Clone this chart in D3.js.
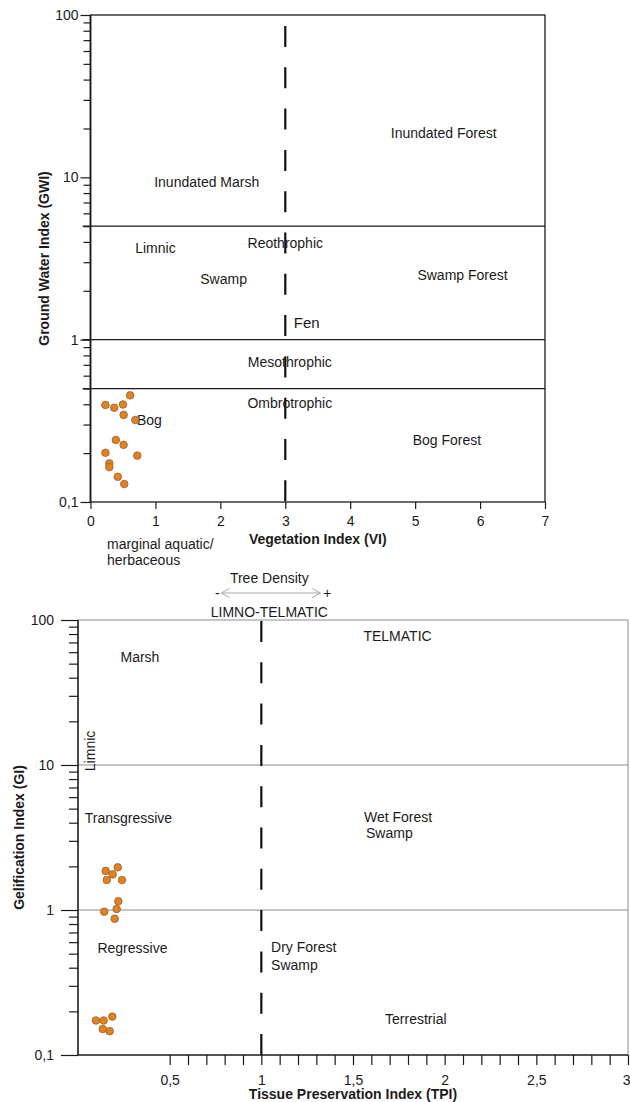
<!DOCTYPE html>
<html>
<head>
<meta charset="utf-8">
<script src="https://cdn.jsdelivr.net/npm/d3@7"></script>
<style>
  body { margin: 0; background: #fff; }
  svg { display: block; font-family: "Liberation Sans", Arial, Helvetica, sans-serif; }
</style>
</head>
<body>
<svg id="chart" width="630" height="1102"></svg>
<script>
// ---- Upper diagram: Vegetation Index (VI) vs Ground Water Index (GWI) ----
const viValues  = [0.61, 0.23, 0.365, 0.50, 0.51, 0.69, 0.39, 0.51, 0.23, 0.72, 0.29, 0.29, 0.42, 0.52];
const gwiValues = [0.454, 0.396, 0.381, 0.399, 0.344, 0.320, 0.241, 0.225, 0.201, 0.193, 0.173, 0.164, 0.143, 0.129];
const viTicks = [0, 1, 2, 3, 4, 5, 6, 7];
const gwiMajorTicks = [0.1, 1, 10, 100];
const gwiBoundaries = [0.5, 1, 5];
const viBoundary = 3;
const topFields = [
  { text: "Inundated Forest", x: 5.44, y: 17.5, anchor: "middle" },
  { text: "Inundated Marsh",  x: 1.79, y: 8.7,  anchor: "middle" },
  { text: "Reothrophic",      x: 3.0,  y: 3.67, anchor: "middle" },
  { text: "Limnic",           x: 1.0,  y: 3.42, anchor: "middle" },
  { text: "Swamp",            x: 2.05, y: 2.2,  anchor: "middle" },
  { text: "Swamp Forest",     x: 5.73, y: 2.33, anchor: "middle" },
  { text: "Mesothrophic",     x: 3.07, y: 0.68, anchor: "middle" },
  { text: "Ombrotrophic",     x: 3.07, y: 0.379, anchor: "middle" },
  { text: "Bog",              x: 0.716, y: 0.298, anchor: "start" },
  { text: "Bog Forest",       x: 5.49, y: 0.224, anchor: "middle" }
];
const fenLabel = { text: "Fen", x: 3.13, y: 1.18 };

// ---- Lower diagram: Tissue Preservation Index (TPI) vs Gelification Index (GI) ----
const tpiValues = [0.151, 0.189, 0.217, 0.157, 0.240, 0.220, 0.143, 0.211, 0.200, 0.098, 0.140, 0.187, 0.135, 0.173];
const giValues  = [1.86, 1.76, 1.97, 1.61, 1.61, 1.15, 0.973, 1.016, 0.871, 0.173, 0.173, 0.184, 0.151, 0.146];
const tpiMajorTicks = [0.5, 1, 1.5, 2, 2.5, 3];
const tpiMinorTicks = [0.6, 0.7, 0.8, 0.9, 1.1, 1.2, 1.3, 1.4, 1.6, 1.7, 1.8, 1.9,
                       2.1, 2.2, 2.3, 2.4, 2.6, 2.7, 2.8, 2.9];
const giMajorTicks = [0.1, 1, 10, 100];
const giBoundaries = [1, 10];
const tpiBoundary = 1;
const bottomFields = [
  { text: "Marsh",         x: 0.338, y: 51.3, anchor: "middle" },
  { text: "TELMATIC",      x: 1.743, y: 71.7, anchor: "middle" },
  { text: "Transgressive", x: 0.275, y: 3.98, anchor: "middle" },
  { text: "Wet Forest",    x: 1.56,  y: 4.05, anchor: "start" },
  { text: "Swamp",         x: 1.571, y: 3.14, anchor: "start" },
  { text: "Regressive",    x: 0.297, y: 0.505, anchor: "middle" },
  { text: "Dry Forest",    x: 1.053, y: 0.513, anchor: "start" },
  { text: "Swamp",         x: 1.053, y: 0.386, anchor: "start" },
  { text: "Terrestrial",   x: 1.675, y: 0.164, anchor: "start" }
];
const limnicLabel = { text: "Limnic", x: 0.068, y: 12.5 };

// ---- helpers ----
const svg = d3.select("#chart");
const fmt = v => String(v).replace(".", ",");
const INK = "#1b1b1b";
function logMinor(decades) {
  const out = [];
  decades.forEach(d => { for (let k = 2; k <= 9; k++) out.push(+(d * k).toPrecision(3)); });
  return out;
}
function styleAxis(g) {
  g.select(".domain").remove();
  g.selectAll("line").attr("stroke", INK).attr("stroke-width", 1.2);
  g.selectAll("text").attr("font-size", 14).attr("fill", INK)
    .attr("font-family", '"Liberation Sans", Arial, sans-serif');
}
function drawPoints(g, xs, ys, xScale, yScale) {
  g.selectAll("circle.pt").data(xs.map((x, i) => [x, ys[i]])).join("circle")
    .attr("class", "pt")
    .attr("cx", d => xScale(d[0])).attr("cy", d => yScale(d[1]))
    .attr("r", 3.8)
    .attr("fill", "#ec7f14").attr("stroke", "#7d6650").attr("stroke-width", 0.8);
}

// =================== Upper diagram ===================
const xTop = d3.scaleLinear().domain([0, 7]).range([90.5, 545]);
const yTop = d3.scaleLog().domain([0.1, 100]).range([502, 15]);
const gTop = svg.append("g");

// frame
gTop.append("rect")
  .attr("x", xTop(0)).attr("y", yTop(100))
  .attr("width", xTop(7) - xTop(0)).attr("height", yTop(0.1) - yTop(100))
  .attr("fill", "none").attr("stroke", INK).attr("stroke-width", 1.3);
gTop.append("line")
  .attr("x1", xTop(0)).attr("x2", xTop(0)).attr("y1", yTop(100)).attr("y2", yTop(0.1))
  .attr("stroke", INK).attr("stroke-width", 1.7);

// GWI field boundaries
gTop.selectAll("line.bnd").data(gwiBoundaries).join("line")
  .attr("class", "bnd")
  .attr("x1", xTop(0) - 8).attr("x2", xTop(7))
  .attr("y1", d => yTop(d)).attr("y2", d => yTop(d))
  .attr("stroke", INK).attr("stroke-width", 1.3);

// VI boundary (dashed)
gTop.append("line")
  .attr("x1", xTop(viBoundary)).attr("x2", xTop(viBoundary))
  .attr("y1", yTop(100) + 11).attr("y2", yTop(0.1))
  .attr("stroke", "#111").attr("stroke-width", 2.2)
  .attr("stroke-dasharray", "21 20.3");

// axes
gTop.append("g").attr("transform", `translate(${xTop(0)},0)`)
  .call(d3.axisLeft(yTop).tickValues(logMinor([0.1, 1, 10])).tickSize(7).tickFormat(""))
  .call(styleAxis);
gTop.append("g").attr("transform", `translate(${xTop(0)},0)`)
  .call(d3.axisLeft(yTop).tickValues(gwiMajorTicks).tickSize(10).tickPadding(2).tickFormat(fmt))
  .call(styleAxis);
gTop.append("g").attr("transform", `translate(0,${yTop(0.1)})`)
  .call(d3.axisBottom(xTop).tickValues(viTicks).tickSize(7).tickPadding(7).tickFormat(fmt))
  .call(styleAxis);

// axis titles
gTop.append("text")
  .attr("transform", `translate(49,${(yTop(100) + yTop(0.1)) / 2}) rotate(-90)`)
  .attr("text-anchor", "middle").attr("font-size", 14).attr("font-weight", "bold").attr("fill", INK)
  .text("Ground Water Index (GWI)");
gTop.append("text")
  .attr("x", (xTop(0) + xTop(7)) / 2).attr("y", 544)
  .attr("text-anchor", "middle").attr("font-size", 14).attr("font-weight", "bold").attr("fill", INK)
  .text("Vegetation Index (VI)");
gTop.append("text")
  .attr("x", 107).attr("y", 549).attr("font-size", 14).attr("fill", INK)
  .text("marginal aquatic/");
gTop.append("text")
  .attr("x", 107).attr("y", 565).attr("font-size", 14).attr("fill", INK)
  .text("herbaceous");

// field names
gTop.selectAll("text.field").data(topFields).join("text")
  .attr("class", "field")
  .attr("x", d => xTop(d.x)).attr("y", d => yTop(d.y))
  .attr("text-anchor", d => d.anchor)
  .attr("font-size", 14).attr("fill", INK)
  .text(d => d.text);
gTop.append("text")
  .attr("x", xTop(fenLabel.x)).attr("y", yTop(fenLabel.y))
  .attr("font-size", 15).attr("fill", INK)
  .attr("font-family", '"Liberation Sans Narrow", "Liberation Sans", Arial, sans-serif')
  .text(fenLabel.text);

drawPoints(gTop, viValues, gwiValues, xTop, yTop);

// =================== Lower diagram ===================
const xBot = d3.scaleLinear().domain([0, 3]).range([78, 628]);
const yBot = d3.scaleLog().domain([0.1, 100]).range([1055, 620]);
const gBot = svg.append("g");

// light frame (top and right) and GI boundaries
gBot.append("line")
  .attr("x1", xBot(0)).attr("x2", xBot(3)).attr("y1", yBot(100)).attr("y2", yBot(100))
  .attr("stroke", "#8c8c8c").attr("stroke-width", 1);
gBot.append("line")
  .attr("x1", xBot(3)).attr("x2", xBot(3)).attr("y1", yBot(100)).attr("y2", yBot(0.1))
  .attr("stroke", "#8c8c8c").attr("stroke-width", 1);
gBot.selectAll("line.bnd").data(giBoundaries).join("line")
  .attr("class", "bnd")
  .attr("x1", xBot(0)).attr("x2", xBot(3))
  .attr("y1", d => yBot(d)).attr("y2", d => yBot(d))
  .attr("stroke", "#8c8c8c").attr("stroke-width", 1);

// TPI boundary (dashed)
gBot.append("line")
  .attr("x1", xBot(tpiBoundary)).attr("x2", xBot(tpiBoundary))
  .attr("y1", yBot(100) + 1).attr("y2", yBot(0.1))
  .attr("stroke", "#111").attr("stroke-width", 2.2)
  .attr("stroke-dasharray", "21 20.3");

// main axes lines
gBot.append("line")
  .attr("x1", xBot(0)).attr("x2", xBot(0)).attr("y1", yBot(100)).attr("y2", yBot(0.1))
  .attr("stroke", INK).attr("stroke-width", 1.6);
gBot.append("line")
  .attr("x1", xBot(0)).attr("x2", xBot(3)).attr("y1", yBot(0.1)).attr("y2", yBot(0.1))
  .attr("stroke", INK).attr("stroke-width", 1.6);

gBot.append("g").attr("transform", `translate(${xBot(0)},0)`)
  .call(d3.axisLeft(yBot).tickValues(logMinor([0.1, 1, 10])).tickSize(9).tickFormat(""))
  .call(styleAxis);
gBot.append("g").attr("transform", `translate(${xBot(0)},0)`)
  .call(d3.axisLeft(yBot).tickValues(giMajorTicks).tickSize(17).tickPadding(7).tickFormat(fmt))
  .call(styleAxis);
gBot.append("g").attr("transform", `translate(0,${yBot(0.1)})`)
  .call(d3.axisBottom(xBot).tickValues(tpiMinorTicks).tickSize(10).tickFormat(""))
  .call(styleAxis);
const tpiAxis = gBot.append("g").attr("transform", `translate(0,${yBot(0.1)})`)
  .call(d3.axisBottom(xBot).tickValues(tpiMajorTicks).tickSize(10).tickPadding(10).tickFormat(fmt))
  .call(styleAxis);
// keep the last label inside the page edge
tpiAxis.selectAll(".tick text").filter(d => d === 3)
  .attr("text-anchor", "end").attr("x", 2);

// axis titles
gBot.append("text")
  .attr("transform", `translate(24,${(yBot(100) + yBot(0.1)) / 2}) rotate(-90)`)
  .attr("text-anchor", "middle").attr("font-size", 14).attr("font-weight", "bold").attr("fill", INK)
  .text("Gelification Index (GI)");
gBot.append("text")
  .attr("x", (xBot(0) + xBot(3)) / 2).attr("y", 1099)
  .attr("text-anchor", "middle").attr("font-size", 14).attr("font-weight", "bold").attr("fill", INK)
  .text("Tissue Preservation Index (TPI)");

// tree density scale above the diagram
const tdX = xBot(tpiBoundary) + 8;
gBot.append("text")
  .attr("x", tdX).attr("y", 583).attr("text-anchor", "middle")
  .attr("font-size", 14).attr("fill", INK).text("Tree Density");
gBot.append("text")
  .attr("x", tdX - 52).attr("y", 598).attr("text-anchor", "middle")
  .attr("font-size", 14).attr("fill", INK).text("-");
gBot.append("text")
  .attr("x", tdX + 58).attr("y", 598).attr("text-anchor", "middle")
  .attr("font-size", 14).attr("fill", INK).text("+");
const arrow = gBot.append("g").attr("stroke", "#a8a8a8").attr("stroke-width", 1).attr("fill", "none");
arrow.append("line").attr("x1", tdX - 48).attr("x2", tdX + 51).attr("y1", 593).attr("y2", 593);
arrow.append("path").attr("d", `M${tdX - 40},588.5 L${tdX - 48},593 L${tdX - 40},597.5`);
arrow.append("path").attr("d", `M${tdX + 43},588.5 L${tdX + 51},593 L${tdX + 43},597.5`);
gBot.append("text")
  .attr("x", tdX).attr("y", 617).attr("text-anchor", "middle")
  .attr("font-size", 14).attr("fill", INK).text("LIMNO-TELMATIC");

// field names
gBot.selectAll("text.field").data(bottomFields).join("text")
  .attr("class", "field")
  .attr("x", d => xBot(d.x)).attr("y", d => yBot(d.y))
  .attr("text-anchor", d => d.anchor)
  .attr("font-size", 14).attr("fill", INK)
  .text(d => d.text);
gBot.append("text")
  .attr("transform", `translate(${xBot(limnicLabel.x) + 5},${yBot(limnicLabel.y)}) rotate(-90)`)
  .attr("text-anchor", "middle").attr("font-size", 14).attr("fill", INK)
  .text(limnicLabel.text);

drawPoints(gBot, tpiValues, giValues, xBot, yBot);
</script>
</body>
</html>
